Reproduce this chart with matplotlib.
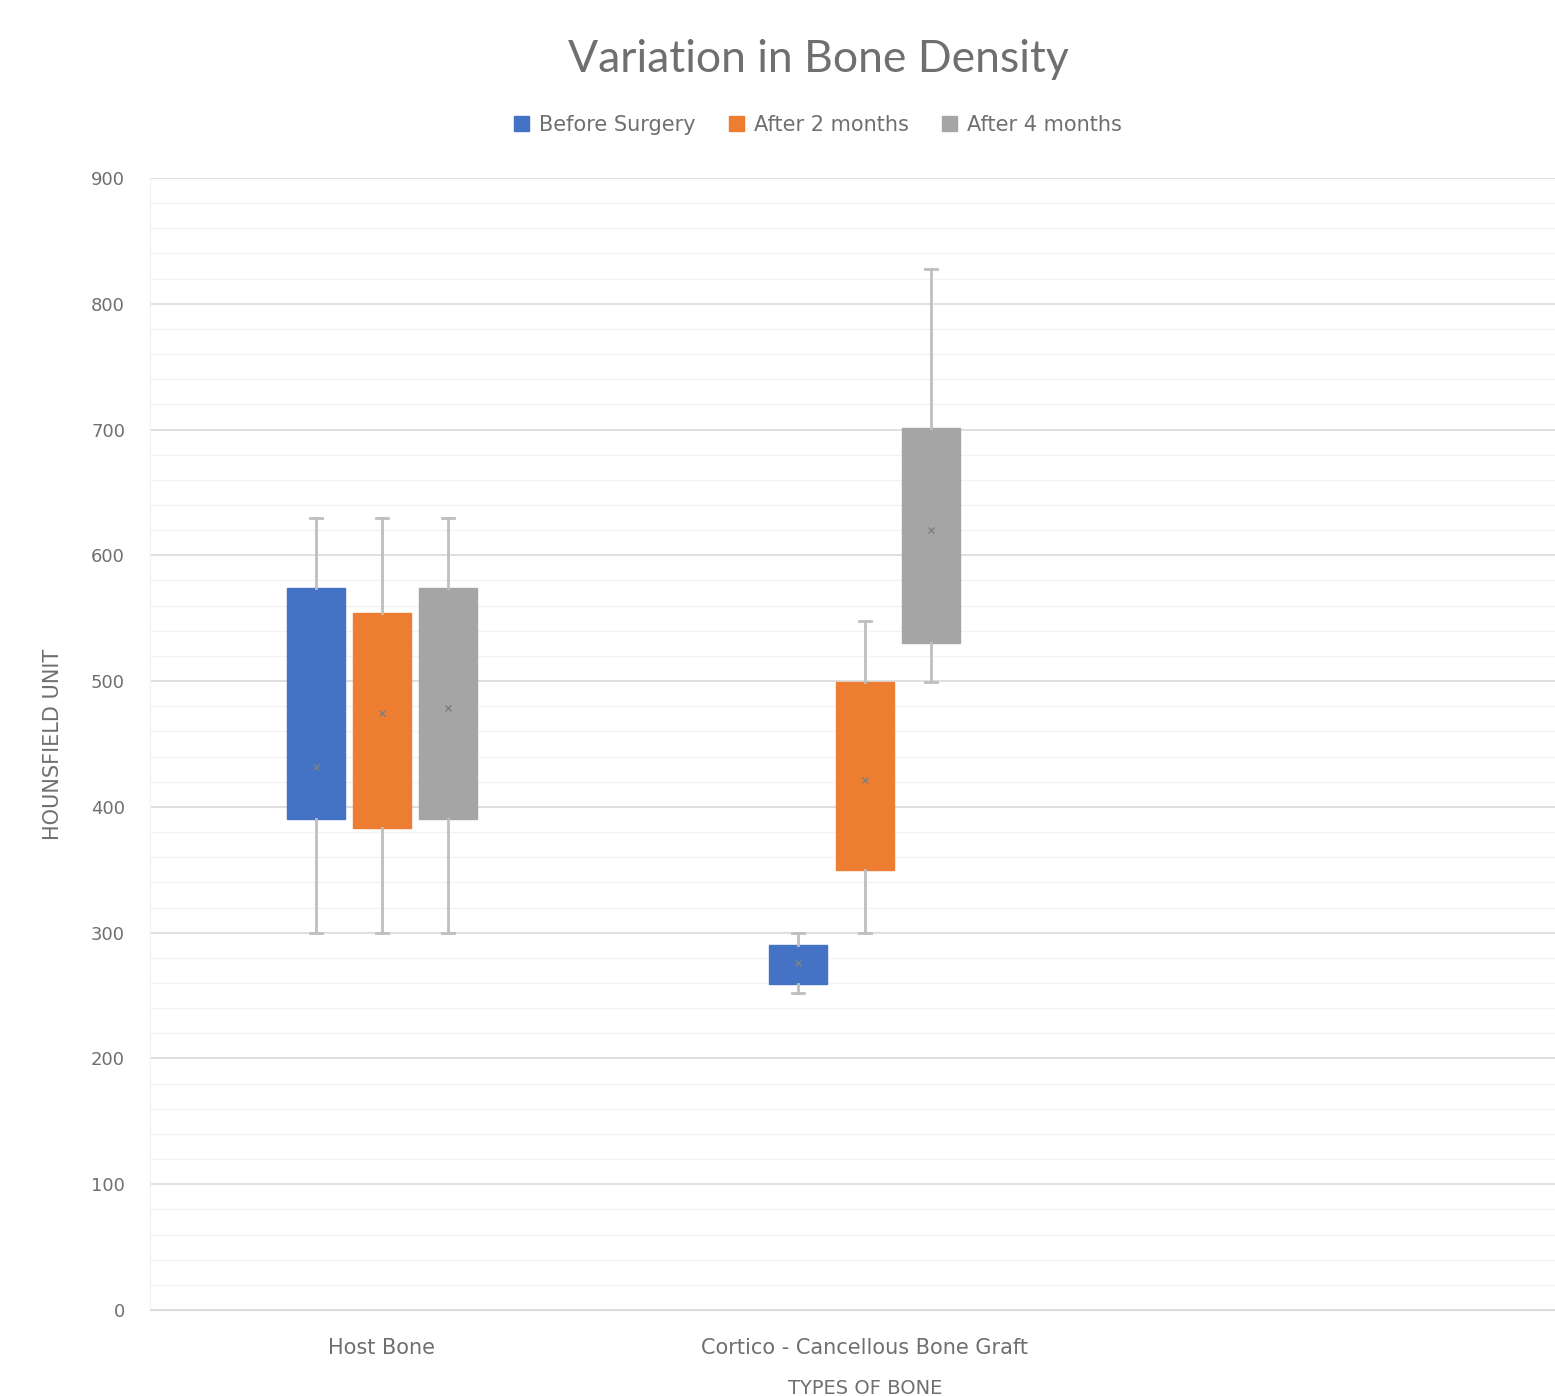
import matplotlib
matplotlib.use("Agg")
import matplotlib.pyplot as plt
import numpy as np
from matplotlib.patches import Patch

# ---- data ----
categories = ["Host Bone", "Cortico - Cancellous Bone Graft", ""]
series = ["Before Surgery", "After 2 months", "After 4 months"]
colors = ["#4472C4", "#ED7D31", "#A5A5A5"]

# per series: values for [Host Bone, Graft]
whislo = {"Before Surgery": [300, 252], "After 2 months": [300, 300], "After 4 months": [300, 499]}
q1     = {"Before Surgery": [390, 259], "After 2 months": [383, 350], "After 4 months": [390, 530]}
med    = {"Before Surgery": [478, 276], "After 2 months": [476, 401], "After 4 months": [479, 602]}
q3     = {"Before Surgery": [574, 290], "After 2 months": [554, 499], "After 4 months": [574, 701]}
whishi = {"Before Surgery": [630, 300], "After 2 months": [630, 548], "After 4 months": [630, 828]}
mean   = {"Before Surgery": [432, 276], "After 2 months": [475, 421], "After 4 months": [479, 620]}

yticks = [0, 100, 200, 300, 400, 500, 600, 700, 800, 900]

fig = plt.figure(figsize=(15.55, 13.96), dpi=100)
ax = fig.add_axes([0.0965, 0.0616, 0.9035, 0.8109])

offsets = [-0.137, 0.0, 0.137]
width = 0.12
for si, s in enumerate(series):
    stats = []
    positions = []
    for ci in range(2):
        stats.append(dict(whislo=whislo[s][ci], q1=q1[s][ci], med=med[s][ci],
                          q3=q3[s][ci], whishi=whishi[s][ci], mean=mean[s][ci], fliers=[]))
        positions.append(ci + offsets[si])
    ax.bxp(stats, positions=positions, widths=width, patch_artist=True,
           showmeans=True, showfliers=False, manage_ticks=False,
           boxprops=dict(facecolor=colors[si], edgecolor=colors[si], linewidth=1),
           medianprops=dict(color=colors[si], linewidth=1.5),
           whiskerprops=dict(color="#BFBFBF", linewidth=2),
           capprops=dict(color="#BFBFBF", linewidth=2),
           capwidths=0.025,
           meanprops=dict(marker="x", markeredgecolor="#7F7F7F", markersize=5, markeredgewidth=1),
           zorder=3)

ax.set_xlim(-0.48, 2.43)
ax.set_ylim(0, 900)
ax.set_yticks(yticks)
ax.set_yticklabels([str(v) for v in yticks], fontsize=13, color="#6F6F6F")
ax.set_yticks(np.arange(0, 901, 20), minor=True)
ax.set_xticks([0, 1, 2])
ax.set_xticklabels(categories, fontsize=15, color="#6F6F6F")
ax.tick_params(axis="both", which="both", length=0)
ax.tick_params(axis="x", pad=20)
ax.tick_params(axis="y", pad=18)
ax.grid(axis="y", which="major", color="#D9D9D9", linewidth=1.2, zorder=0)
ax.grid(axis="y", which="minor", color="#F2F2F2", linewidth=1.0, zorder=0)
ax.grid(axis="x", visible=False)
for sp in ["top", "right"]:
    ax.spines[sp].set_visible(False)
ax.spines["left"].set_color("#F0F0F0")
ax.spines["bottom"].set_color("#D9D9D9")
ax.set_axisbelow(True)

ax.set_ylabel("HOUNSFIELD UNIT", fontsize=15, color="#6F6F6F", labelpad=20)

fig.text(818 / 1555, 1 - 60 / 1396, "Variation in Bone Density", ha="center", va="center",
         fontsize=32, color="#6F6F6F", family="Lato")
fig.text(865 / 1555, 1 - 1388 / 1396, "TYPES OF BONE", ha="center", va="center",
         fontsize=14, color="#6F6F6F")

handles = [Patch(facecolor=c, edgecolor=c) for c in colors]
fig.legend(handles, series, loc="center", bbox_to_anchor=(818 / 1555, 1 - 125 / 1396),
           ncol=3, frameon=False, fontsize=15, labelcolor="#6F6F6F",
           handlelength=0.7, handleheight=0.7, handletextpad=0.5, columnspacing=1.6)

fig.savefig("out.png", dpi=100, facecolor="white")
